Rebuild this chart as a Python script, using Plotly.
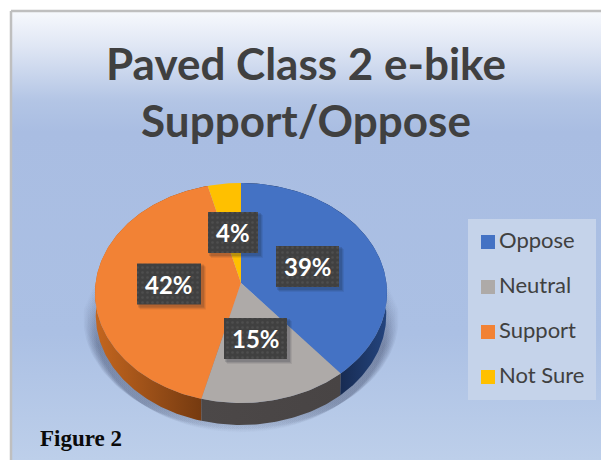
import numpy as np
import plotly.graph_objects as go

categories = ["Oppose", "Neutral", "Support", "Not Sure"]
values = [39, 15, 42, 4]
top_colors = ["#4472c4", "#aeaaa8", "#f28235", "#ffc000"]
chart_title = "Paved Class 2 e-bike<br>Support/Oppose"
figure_note = "Figure 2"

W, H = 601, 460
FRAME_L, FRAME_T = 11, 11
CX, CY = 241, 283
RX, RY, K = 145.4, 109.1, 0.0909
DEPTH = 22


def project(theta, dy=0.0, sx=1.0):
    s, c = np.sin(theta), np.cos(theta)
    w = 1 + K * c
    return CX + sx * RX * s / w, CY - RY * c / w + dy


def arc(a, b, dy=0.0, sx=1.0):
    t = np.linspace(a, b, max(int(abs(b - a) * 60), 4))
    return project(t, dy, sx)


def poly(fig, x, y, **kw):
    kw.setdefault("line", dict(width=0))
    fig.add_trace(go.Scatter(x=list(x), y=list(y), mode="lines", fill="toself",
                             hoverinfo="skip", showlegend=False, **kw))


def rect(x0, y0, x1, y1):
    return [x0, x1, x1, x0, x0], [y0, y0, y1, y1, y0]


fig = go.Figure()

# background panel
bx, by = rect(FRAME_L, FRAME_T, W + 5, H + 5)
poly(fig, bx, by, line=dict(width=2.5, color="#bfbfbf"),
     fillgradient=dict(type="vertical", start=FRAME_T, stop=H,
                       colorscale=[[0, "#f7f9fd"], [0.08, "#dfe6f4"], [0.2, "#b3c5e5"],
                                   [0.27, "#a9bde2"], [0.72, "#abc0e4"], [1, "#bdcfea"]]))

# ground shadow: soft layers, cut flat near the bottom as in the reference
for grow in np.arange(1, 13, 1.5):
    t = np.linspace(np.pi / 2, 3 * np.pi / 2, 80)
    sx0, sy0 = project(t, 30 - grow * 0.4, 1 + grow / 146)
    keep = sy0 <= 433
    xs = np.r_[CX + RX + 1, sx0[keep], CX - RX - 1]
    ys = np.r_[283, sy0[keep], 283]
    poly(fig, xs, ys,
         fillgradient=dict(type="vertical", start=283, stop=433,
                           colorscale=[[0, "rgba(50,60,90,0)"], [0.42, "rgba(50,60,90,0.07)"],
                                       [0.8, "rgba(50,60,90,0.06)"], [1, "rgba(50,60,90,0.01)"]]))

edges = np.cumsum([0] + values) / sum(values) * 2 * np.pi

# walls
wall_fill = [
    dict(type="horizontal", start=340, stop=388, colorscale=[[0, "#172b52"], [1, "#24457f"]]),
    dict(type="horizontal", start=200, stop=340, colorscale=[[0, "#4c4848"], [1, "#484444"]]),
    dict(type="horizontal", start=95, stop=202, colorscale=[[0, "#c4661f"], [0.5, "#9c5018"], [1, "#753a10"]]),
    None,
]
for i in [2, 0, 1]:
    a, b = edges[i], edges[i + 1]
    ux, uy = arc(a, b)
    lx, ly = arc(a, b, DEPTH, 0.995)
    poly(fig, np.r_[ux, lx[::-1], ux[0]], np.r_[uy, ly[::-1], uy[0]], fillgradient=wall_fill[i])

# top surface
for i, name in enumerate(categories):
    ax, ay = arc(edges[i], edges[i + 1])
    px = np.r_[CX, ax, CX]
    py = np.r_[CY, ay, CY]
    poly(fig, px, py, fillcolor=top_colors[i], name=name)

# data label boxes
label_boxes = [(307.5, 266.5), (255.5, 338.5), (169, 284), (233, 232.5)]
box_w = [63, 63, 64, 50]
for (lx, ly), bw in zip(label_boxes, box_w):
    for off, alpha in [(5, 0.08), (4, 0.1), (3, 0.14)]:
        sx1, sy1 = rect(lx - bw / 2 + off - 2, ly - 20.5 + off - 2, lx + bw / 2 + off, ly + 20.5 + off)
        poly(fig, sx1, sy1, fillcolor=f"rgba(20,25,40,{alpha})")
    qx, qy = rect(lx - bw / 2, ly - 20.5, lx + bw / 2, ly + 20.5)
    poly(fig, qx, qy, fillcolor="#404040",
         fillpattern=dict(shape=".", bgcolor="#404040", fgcolor="#5c5c5c", size=5, solidity=0.2))
for (lx, ly), v in zip(label_boxes, values):
    fig.add_annotation(x=lx, y=ly, text=f"{v}%", showarrow=False, xref="x", yref="y",
                       font=dict(family="Lato", size=24, color="white", weight="bold"))

# legend panel and entries
lgx, lgy = rect(468, 219, 596, 400)
poly(fig, lgx, lgy, fillcolor="#c5d3ea")
legend_y = [242, 287, 332, 377]
fig.add_trace(go.Scatter(x=[488] * 4, y=legend_y, mode="markers", hoverinfo="skip", showlegend=False,
                         marker=dict(symbol="square", size=14, color=top_colors)))
for name, yy in zip(categories, legend_y):
    fig.add_annotation(x=497, y=yy - 3, text=name, showarrow=False, xanchor="left", xref="x", yref="y",
                       font=dict(family="Lato", size=22, color="#404040"))

fig.add_annotation(x=38, y=438, text=figure_note, showarrow=False, xanchor="left", xref="x", yref="y",
                   font=dict(family="Liberation Serif", size=23, color="#0a0a0a", weight="bold"))

fig.update_layout(
    width=W, height=H, margin=dict(l=0, r=0, t=0, b=0),
    paper_bgcolor="white", plot_bgcolor="white", showlegend=False,
    title=dict(text=chart_title, x=306 / W, xanchor="center", y=1 - 80 / H, yanchor="top",
               font=dict(family="Lato", size=44, color="#404040", weight="bold")),
    xaxis=dict(range=[0, W], visible=False, fixedrange=True),
    yaxis=dict(range=[H, 0], visible=False, fixedrange=True),
)
fig.write_html("out.html", config=dict(displayModeBar=False),
               post_script="document.body.style.margin='0';document.body.style.overflow='hidden';")
